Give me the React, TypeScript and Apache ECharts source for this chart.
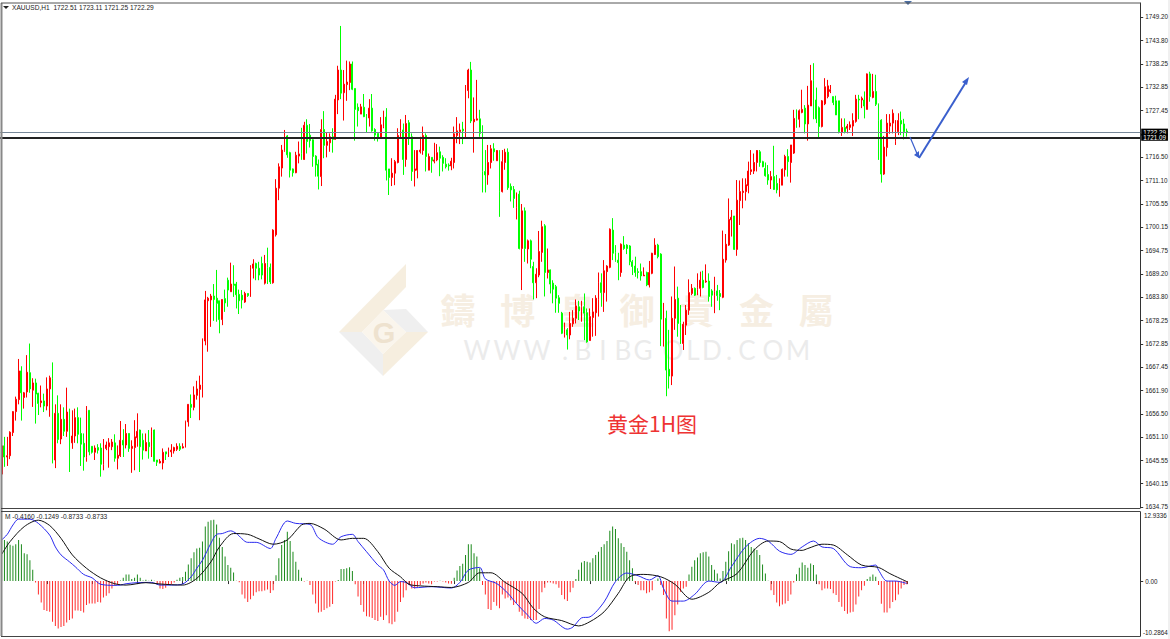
import React, { useEffect, useRef } from "react";
import * as echarts from "echarts";

// Candles as [open, close, low, high]
const basing = [
[1642.4,1649.0,1637.2,1650.0],[1649.0,1646.4,1644.1,1651.1],[1646.4,1646.7,1644.3,1651.1],[1646.7,1652.2,1645.9,1652.4],[1652.1,1657.0,1651.3,1657.1],[1657.0,1659.9,1654.9,1660.5],[1659.8,1666.5,1658.7,1669.3],[1666.5,1661.4,1654.9,1667.6],[1660.3,1661.4,1657.7,1661.6],[1661.6,1666.2,1660.3,1670.2],
[1666.1,1662.3,1661.4,1672.9],[1662.0,1663.7,1658.1,1664.8],[1663.7,1661.1,1654.2,1664.7],[1661.3,1658.9,1656.2,1661.4],[1659.1,1659.5,1658.0,1663.1],[1659.5,1658.3,1656.9,1661.2],[1658.3,1662.3,1657.3,1665.0],[1662.3,1664.9,1655.8,1665.4],[1664.7,1645.7,1644.9,1668.5],[1645.7,1656.6,1643.8,1658.7],
[1656.6,1650.5,1649.6,1660.8],[1650.6,1655.2,1649.4,1658.7],[1655.2,1652.4,1651.3,1658.0],[1652.4,1656.9,1651.1,1662.6],[1656.9,1649.7,1642.9,1657.7],[1649.7,1651.3,1648.3,1657.3],[1651.3,1655.6,1649.7,1657.7],[1655.6,1651.7,1649.6,1658.0],[1651.9,1649.4,1644.3,1655.6],[1649.6,1646.4,1643.2,1651.9],
[1646.3,1657.3,1645.3,1658.3],[1657.3,1647.6,1646.8,1657.3],[1648.9,1647.5,1647.2,1648.9],[1647.5,1648.5,1645.7,1649.1],[1648.6,1648.0,1647.2,1649.4],[1648.5,1644.7,1641.8,1649.6],[1644.7,1648.7,1643.3,1650.6],[1648.4,1649.2,1648.0,1650.0],[1648.8,1649.7,1643.9,1650.8],[1648.8,1649.9,1648.0,1650.6],
[1649.7,1646.1,1645.3,1651.7],[1646.1,1646.8,1643.5,1649.1],[1646.7,1650.3,1646.4,1654.8],[1650.3,1649.2,1646.4,1652.9],[1649.2,1651.9,1648.4,1654.1],[1651.9,1648.4,1647.6,1651.9],[1648.4,1648.9,1642.7,1650.3],[1648.6,1651.1,1643.3,1655.0],[1650.9,1652.4,1648.8,1656.6],[1652.7,1648.8,1642.9,1652.8],
[1650.3,1648.0,1645.8,1651.9],[1647.8,1649.8,1647.8,1651.9],[1649.8,1648.8,1646.0,1652.7],[1648.8,1652.4,1646.4,1653.3],[1652.7,1645.4,1645.3,1652.8],[1645.7,1645.2,1644.3,1645.7],[1645.0,1645.4,1644.9,1645.9],[1645.0,1647.5,1643.5,1648.4],[1647.6,1647.1,1645.7,1647.6],[1647.1,1647.7,1646.4,1648.6],
[1647.6,1648.0,1646.4,1649.4],[1647.8,1648.6,1647.2,1648.8],[1648.2,1648.9,1647.8,1649.6],[1648.9,1648.2,1647.8,1649.6],[1648.5,1648.8,1648.4,1649.6],[1648.7,1654.6,1648.6,1654.9],[1654.6,1658.7,1653.5,1658.7],[1658.7,1658.0,1655.5,1661.0],[1658.0,1660.9,1657.3,1662.9],[1660.8,1662.3,1659.8,1664.2],
[1662.2,1663.2,1655.0,1665.4],[1663.3,1673.7,1660.3,1674.1],[1673.5,1683.1,1672.5,1685.2],[1682.9,1683.5,1671.0,1683.8],[1683.1,1684.0,1676.8,1684.5],[1684.0,1683.2,1678.2,1686.8],[1683.5,1682.3,1678.0,1690.1],[1682.9,1678.5,1675.3,1682.9],[1678.5,1683.2,1677.2,1683.2],[1683.4,1682.4,1680.3,1685.5],
[1687.7,1685.4,1681.5,1688.3],[1685.0,1686.8,1685.0,1691.8],[1686.8,1686.5,1683.8,1691.2],[1686.8,1684.3,1681.1,1687.3],[1684.4,1682.9,1679.8,1685.5],[1684.2,1683.1,1681.1,1685.4],[1682.6,1684.6,1682.4,1685.0],[1684.6,1684.1,1683.8,1684.6],[1684.0,1690.7,1683.8,1691.2],[1690.5,1691.5,1688.1,1692.6],
[1691.6,1690.5,1687.7,1691.8],[1690.5,1688.9,1687.7,1692.0],[1691.6,1688.9,1687.9,1693.2],[1687.0,1691.6,1686.7,1693.6],[1691.8,1690.7,1686.8,1695.3],[1690.7,1687.3,1686.8,1691.6],[1687.1,1699.4,1686.9,1699.6],
];
const topping = [
[1698.3,1709.2,1697.9,1711.3],[1709.2,1714.2,1706.4,1715.0],[1713.9,1718.1,1711.9,1719.3],[1718.0,1721.4,1717.7,1722.8],[1721.4,1717.0,1716.3,1721.6],[1717.5,1713.4,1711.7,1717.7],[1713.7,1712.8,1711.9,1713.8],[1712.8,1716.9,1712.7,1717.7],[1716.7,1717.2,1715.0,1720.1],[1717.3,1715.9,1715.8,1723.3],
[1715.9,1723.9,1715.8,1724.7],[1723.9,1720.1,1717.3,1725.3],[1721.6,1720.3,1718.7,1724.2],[1720.5,1716.6,1714.2,1720.6],[1716.7,1714.6,1711.9,1716.9],[1714.8,1712.0,1708.9,1715.9],[1711.9,1722.9,1709.7,1725.3],[1722.9,1719.2,1716.2,1727.2],[1719.2,1720.1,1716.4,1722.2],[1719.8,1721.2,1717.7,1722.0],
[1721.2,1720.6,1717.5,1723.2],[1720.6,1730.0,1720.5,1731.0],[1729.8,1736.8,1726.5,1737.8],[1736.8,1731.4,1730.0,1747.1],[1731.5,1733.5,1725.0,1736.8],[1733.4,1734.0,1729.6,1739.0],[1733.9,1738.2,1732.1,1738.8],[1738.2,1732.3,1732.1,1738.8],[1732.5,1727.6,1720.3,1732.5],[1728.1,1727.3,1723.6,1729.0],
[1726.5,1728.2,1726.5,1728.9],[1728.1,1725.9,1725.8,1731.2],[1726.5,1725.9,1722.2,1726.5],[1725.6,1727.9,1723.6,1730.0],[1727.9,1722.6,1722.4,1731.2],[1722.9,1721.6,1720.3,1723.2],[1722.0,1720.8,1720.1,1722.0],[1720.8,1724.0,1720.8,1725.8],[1723.7,1725.8,1723.2,1727.3],[1725.8,1713.4,1711.0,1727.9],
[1713.7,1711.7,1707.6,1713.7],[1711.7,1712.7,1709.7,1716.2],[1712.7,1715.4,1709.9,1715.8],[1715.2,1721.5,1715.0,1723.2],[1721.2,1722.6,1721.2,1725.3],[1722.8,1715.9,1712.3,1724.3],[1715.9,1724.3,1714.2,1726.3],[1724.5,1721.2,1719.3,1725.1],[1721.2,1713.1,1710.9,1722.0],[1713.3,1713.7,1709.6,1718.1],
[1713.4,1718.0,1711.5,1718.1],[1717.7,1718.1,1717.3,1721.2],[1718.0,1721.5,1717.0,1723.6],[1721.5,1716.6,1713.1,1722.0],[1713.4,1716.6,1713.4,1717.3],[1716.4,1715.6,1712.8,1716.4],[1715.5,1715.8,1715.0,1719.8],[1715.8,1717.5,1715.5,1719.5],[1717.7,1716.2,1712.0,1718.9],[1716.4,1715.0,1713.1,1716.9],
[1714.8,1714.2,1713.8,1716.2],[1714.6,1714.4,1713.3,1715.0],[1714.4,1715.5,1713.4,1716.3],[1715.2,1721.9,1713.8,1723.6],[1721.5,1722.6,1719.7,1725.8],[1722.4,1722.8,1719.5,1724.3],[1723.0,1722.6,1719.5,1724.7],[1722.6,1732.1,1721.1,1733.3],[1732.0,1736.8,1730.2,1737.1],[1736.8,1724.9,1724.4,1738.7],
[1724.7,1725.3,1717.5,1730.4],[1725.1,1725.4,1725.0,1734.5],[1725.4,1722.0,1721.2,1727.5],
];
const selloff = [
[1722.0,1713.1,1708.2,1723.9],[1713.1,1712.3,1708.2,1718.1],[1712.3,1715.2,1710.0,1719.3],[1715.2,1718.4,1713.8,1719.3],[1718.4,1717.7,1715.6,1719.7],[1715.6,1718.0,1715.6,1718.1],[1718.0,1708.5,1702.5,1718.1],[1708.4,1715.4,1708.2,1718.1],[1715.2,1717.6,1713.5,1718.4],[1717.6,1709.3,1708.8,1718.5],
[1709.6,1708.8,1706.1,1710.3],[1708.9,1706.8,1704.6,1709.7],[1704.7,1707.6,1701.9,1708.2],[1707.8,1695.1,1694.9,1708.6],[1695.1,1703.9,1685.4,1705.5],[1703.9,1695.1,1692.0,1704.7],[1695.0,1696.9,1691.6,1697.2],[1696.9,1692.6,1690.5,1697.2],[1690.9,1687.1,1683.2,1692.0],[1687.1,1689.1,1683.5,1690.5],
[1688.9,1694.4,1688.4,1699.2],[1694.2,1700.2,1692.0,1701.6],[1700.4,1689.5,1683.9,1700.8],[1689.5,1690.1,1688.1,1695.1],[1690.1,1686.8,1684.6,1690.2],[1687.0,1685.6,1682.3,1687.7],[1686.2,1683.5,1680.1,1686.6],[1683.6,1682.3,1680.1,1684.2],[1680.0,1675.3,1675.1,1680.3],[1675.1,1676.1,1674.3,1677.8],
[1676.1,1674.9,1671.5,1676.5],[1674.9,1677.6,1673.9,1680.3],[1677.5,1678.8,1676.8,1680.7],[1678.8,1681.7,1677.6,1683.2],[1681.5,1680.5,1678.4,1682.9],[1681.3,1681.5,1678.0,1682.9],[1681.5,1680.0,1673.7,1684.6],[1680.1,1673.3,1673.1,1681.1],[1673.6,1679.2,1673.6,1681.1],[1679.0,1680.3,1674.5,1683.5],
[1680.1,1683.5,1674.7,1684.2],[1683.2,1687.2,1679.2,1689.5],[1687.1,1684.8,1681.5,1689.3],[1684.8,1689.9,1680.3,1692.4],[1689.7,1691.0,1682.7,1691.2],[1690.7,1699.6,1690.5,1699.8],[1699.4,1694.0,1692.4,1702.2],[1694.1,1692.3,1692.0,1695.9],[1692.4,1691.8,1687.7,1694.1],[1689.5,1696.1,1688.5,1696.3],
[1695.9,1695.1,1694.8,1698.0],[1695.9,1695.1,1693.8,1696.1],[1695.7,1692.0,1691.2,1695.9],[1692.0,1690.9,1688.9,1692.4],[1691.0,1689.5,1688.5,1693.2],[1689.7,1689.5,1688.1,1690.5],[1689.7,1688.7,1687.6,1691.6],[1688.7,1688.9,1688.7,1690.7],[1689.5,1686.6,1686.3,1689.7],[1686.6,1689.5,1686.0,1692.2],
[1689.3,1694.0,1689.1,1694.1],[1693.7,1695.9,1693.6,1697.5],[1695.9,1693.2,1692.8,1696.2],[1693.8,1678.6,1672.3,1694.0],[1678.4,1678.8,1672.2,1682.4],[1678.8,1666.7,1660.6,1680.6],[1666.9,1665.3,1662.4,1676.1],[1665.3,1678.8,1663.2,1683.9],[1678.8,1683.2,1676.1,1690.9],[1683.5,1677.6,1674.5,1686.2],
[1677.8,1672.9,1672.8,1681.9],[1672.9,1677.4,1671.4,1678.0],[1677.2,1680.7,1674.9,1681.9],[1680.7,1684.8,1679.6,1687.9],[1684.6,1685.8,1684.2,1686.8],[1685.8,1684.2,1684.0,1686.0],[1685.6,1686.0,1684.2,1689.3],[1685.8,1687.7,1683.9,1689.7],[1687.7,1686.0,1685.8,1689.9],[1687.3,1687.5,1687.1,1691.4],
[1687.5,1683.9,1682.7,1689.3],[1685.2,1684.2,1681.5,1685.6],[1684.1,1685.0,1680.0,1688.5],[1685.2,1684.1,1682.9,1686.6],[1684.6,1683.9,1680.7,1685.4],[1683.7,1692.6,1683.5,1699.3],[1692.4,1696.1,1691.8,1698.5],[1695.9,1701.9,1695.7,1706.8],[1701.8,1702.4,1697.9,1704.1],[1702.7,1694.9,1694.8,1702.7],
[1694.9,1706.4,1693.4,1711.1],[1706.3,1708.4,1700.6,1711.0],[1708.2,1708.5,1704.5,1711.5],[1708.4,1710.0,1706.3,1711.5],[1709.8,1713.2,1708.0,1715.4],[1713.1,1713.5,1712.3,1718.1],[1713.2,1715.2,1712.5,1717.3],[1715.2,1718.0,1713.1,1718.1],[1717.7,1715.2,1714.2,1718.1],[1715.4,1714.2,1714.1,1715.6],
[1713.8,1712.1,1711.9,1715.2],[1712.4,1711.1,1710.0,1714.6],[1711.1,1711.9,1709.0,1713.2],[1711.9,1708.9,1708.8,1719.1],[1710.3,1708.8,1708.0,1712.3],[1708.6,1710.3,1707.2,1711.5],
];
const recovery = [
[1709.9,1713.6,1709.9,1713.8],[1713.5,1716.6,1711.9,1717.0],[1716.6,1715.4,1711.9,1718.3],[1715.2,1719.3,1710.5,1719.3],[1717.4,1725.5,1717.2,1727.5],[1725.5,1725.3,1723.3,1727.6],[1725.3,1727.3,1723.4,1727.6],[1726.9,1727.6,1726.7,1732.2],[1727.9,1724.2,1722.0,1728.6],[1724.2,1728.6,1720.3,1733.1],
[1728.4,1734.3,1728.4,1738.0],[1734.3,1729.8,1725.3,1738.4],[1729.8,1725.4,1724.4,1732.7],[1728.0,1723.6,1721.1,1728.3],[1723.6,1729.6,1723.4,1729.8],[1728.9,1732.9,1728.6,1734.9],[1730.6,1733.1,1730.2,1734.5],[1731.8,1732.2,1731.4,1733.3],[1730.6,1729.2,1728.6,1730.6],[1729.6,1726.3,1726.3,1730.8],
[1729.6,1722.4,1722.0,1729.6],[1722.3,1723.4,1721.4,1725.5],[1723.4,1722.4,1722.0,1725.5],[1723.2,1723.7,1722.0,1724.2],[1723.4,1724.0,1722.8,1724.8],[1723.7,1725.0,1721.4,1726.7],[1724.8,1730.0,1724.5,1731.0],[1730.0,1729.8,1725.3,1731.0],[1729.8,1730.2,1727.9,1730.6],[1729.8,1728.4,1725.5,1731.8],
[1727.6,1735.9,1727.6,1736.0],[1735.9,1730.6,1729.4,1736.4],[1730.4,1731.8,1730.2,1735.9],[1731.8,1728.8,1728.4,1735.7],[1728.8,1725.1,1715.8,1729.0],[1725.1,1712.5,1710.5,1725.3],[1712.5,1718.8,1712.3,1721.4],[1718.7,1724.4,1716.6,1726.5],[1723.7,1724.4,1721.9,1726.5],[1724.4,1726.7,1722.0,1727.6],
[1720.1,1722.8,1719.3,1725.1],[1722.4,1725.0,1721.6,1726.7],[1725.0,1724.2,1721.6,1727.1],[1724.2,1722.4,1720.6,1725.4],[1722.51,1722.29,1721.25,1723.11],
];

const histogram = [
7.7,7.7,7.4,6.8,6.6,6.9,7.7,6.9,5.2,5.0,3.9,2.1,-0.25,-2.5,-4.0,-5.4,-5.6,-5.75,-7.6,-8.4,
-8.9,-8.6,-8.4,-7.75,-7.3,-7.0,-5.5,-5.5,-5.6,-5.9,-4.5,-4.2,-4.2,-4.2,-3.9,-4.0,-3.1,-2.75,-2.3,-1.4,
-0.9,-0.75,0.1,0.6,1.25,1.25,0.4,0.6,1.25,0.6,0.1,0.25,0.05,0.25,0.05,-0.6,-1.4,-1.5,-1.25,-0.75,
-0.6,-0.25,0.25,0.6,0.75,1.75,3.1,4.25,5.4,6.1,6.25,7.4,10.2,11.1,11.4,11.5,10.6,8.1,6.4,4.6,
3.0,2.5,1.6,0.05,-0.2,-2.5,-3.25,-3.9,-3.4,-2.75,-2.1,-1.9,-1.9,-1.75,-1.6,-2.25,-1.7,1.1,4.25,6.75,
7.7,9.25,7.5,5.5,3.6,2.1,0.6,-0.1,0.05,-0.75,-2.5,-4.2,-5.9,-5.75,-5.4,-5.1,-4.8,-4.3,-0.1,0.2,
2.25,2.25,2.4,2.6,1.9,-0.6,-2.9,-4.5,-5.75,-6.6,-6.7,-6.9,-7.3,-7.5,-6.7,-7.3,-6.4,-7.9,-8.1,-7.6,
-5.75,-3.9,-3.1,-1.7,-0.75,-1.4,-1.4,-1.05,-0.75,-0.45,-0.25,-0.45,-0.6,-0.1,-0.1,0.05,-0.1,-0.25,-0.45,-0.5,
0.6,2.0,2.8,3.25,4.9,6.9,6.9,5.2,4.6,2.4,-0.75,-2.5,-5.25,-5.4,-3.9,-4.6,-5.1,-2.5,-3.25,-3.1,
-3.6,-4.5,-4.2,-5.75,-6.5,-7.0,-7.1,-7.3,-7.3,-7.3,-5.25,-2.1,-1.25,-0.25,-0.25,-0.45,-0.6,-1.25,-2.6,-3.4,
-3.75,-2.1,-1.25,0.4,2.1,3.5,3.75,3.6,3.5,4.25,4.9,5.5,6.4,6.9,7.5,9.4,10.2,9.75,8.0,7.1,
6.4,5.5,3.9,2.4,-0.25,-0.75,-1.7,-1.7,-2.3,-2.1,-1.7,0.05,0.5,-0.75,-2.6,-7.0,-9.4,-9.1,-6.4,-4.4,
-2.0,-1.4,-1.05,1.25,2.7,3.9,4.4,5.2,5.4,5.5,4.6,3.0,2.1,1.4,0.5,1.9,3.6,5.6,7.1,6.9,
7.7,8.0,8.1,7.7,7.1,6.4,6.1,5.8,4.9,3.1,1.4,0.05,-1.7,-2.6,-4.0,-4.7,-4.4,-4.2,-3.75,-2.5,
-0.25,1.3,2.5,3.5,3.0,2.5,3.3,3.0,1.25,-0.6,-1.7,-1.4,-1.4,-1.5,-2.3,-2.6,-3.9,-4.8,-5.6,-6.1,
-5.9,-5.75,-4.4,-2.9,-1.7,-0.9,0.4,0.8,1.25,0.8,-0.75,-4.25,-5.9,-5.9,-5.1,-3.9,-3.6,-2.5,-1.4,-0.75,-0.6,
];

// Indicator lines read at [bar index, value]
const mainLine = [
[0,7.7],[2,8.75],[4,10.5],[6,11.6],[10,11.6],[13,10.8],[17,8.6],[19,6.4],[21,4.9],[24,3.6],[26,2.7],[29,1.25],[32,0.6],[35,-0.6],[40,-0.8],[42,-0.75],[44,-0.5],[48,-0.3],[53,-0.25],[56,-0.75],[60,-0.75],[64,-0.55],[67,0.8],[69,2.4],[71,3.9],[74,7.1],[76,8.75],[78,8.9],[81,9.4],[83,8.9],[87,7.25],[90,7.25],[95,6.1],[97,8.0],[101,11.25],[104,10.8],[109,10.6],[112,8.1],[117,6.9],[120,8.3],[124,8.75],[126,7.4],[129,5.5],[133,3.0],[135,2.1],[137,0],[139,-0.8],
[141,-0.1],[143,-0.25],[146,-1.25],[152,-1.05],[159,-1.3],[162,-0.25],[165,2.05],[169,2.55],[171,0.4],[175,-0.45],[179,-2.3],[182,-4.2],[186,-6.4],[189,-7.9],[192,-7.0],[195,-7.3],[200,-9.0],[202,-8.6],[205,-6.9],[208,-6.7],[213,-3.9],[217,-0.1],[221,1.5],[225,1.0],[229,0.2],[232,1.0],[234,-1.4],[237,-3.75],[241,-3.75],[245,-2.5],[250,0],[254,-0.25],[258,2.7],[263,6.4],[268,8.0],[271,7.5],[275,5.6],[279,5.0],[283,6.4],
[287,7.5],[290,6.4],[294,6.1],[300,2.7],[304,2.5],[309,3.0],[310,2.05],[313,0],[316,0],[320,-0.45],
];
const signalLine = [
[0,5.0],[3,7.4],[8,10.2],[13,11.4],[17,10.4],[21,8.0],[25,4.9],[30,2.4],[35,0.6],[40,-0.5],[44,-0.75],[51,-0.3],[56,-0.55],[64,-0.75],[69,0.5],[74,3.6],[77,6.4],[82,8.9],[87,8.75],[91,7.9],[96,6.9],[101,7.7],[106,10.5],[109,10.8],[114,9.75],[120,7.7],[124,8.0],[128,8.0],[133,5.5],[137,2.4],
[141,0.8],[144,-0.6],[148,-0.9],[154,-1.05],[159,-1.2],[165,-0.25],[169,1.55],[173,1.55],[178,-0.25],[184,-2.3],[188,-5.1],[192,-6.7],[198,-7.4],[204,-8.4],[208,-7.6],[213,-5.75],[218,-2.3],[222,0.8],[227,1.25],[233,0.8],[238,-0.6],[244,-3.4],[250,-2.1],[254,-0.25],[260,1.4],[266,5.8],[271,7.5],[275,7.4],[279,6.0],
[283,5.75],[285,6.1],[290,6.9],[294,6.75],[299,4.9],[304,3.0],[310,2.55],[314,1.4],[320,-0.1],
];

const priceTicks = [1749.2,1743.8,1738.25,1732.85,1727.45,1716.5,1711.1,1705.55,1700.15,1694.75,1689.2,1683.8,1678.25,1672.85,1667.45,1661.9,1656.5,1651.1,1645.55,1640.15,1634.75];
const macdTop = "12.9336";
const macdBottom = "-10.2864";
const bidPrice = 1722.29;
const linePrice = 1721.09;
const slotCount = 403;
const categories = Array.from({ length: slotCount }, (_, i) => String(i));
const headerText = "XAUUSD,H1  1722.51 1723.11 1721.25 1722.29";
const macdHeader = "M -0.4160 -0.1249 -0.8733 -0.8733";
const captionText = "黄金1H图";
const brandChars = ["鑄","博","皇","御","貴","金","屬"];
const urlChars = "WWW.BIBGOLD.COM".split("");
const urlX = [477,507,537,565,583,603,623,643,673,693,712,729,747,773,798];

const SMALL_FONT = "'Liberation Sans', Arial, sans-serif";

export default function App() {
  const ref = useRef<HTMLDivElement>(null);
  useEffect(() => {
    const chart = echarts.init(ref.current!, null, { renderer: "svg" });
    const candles = [...basing, ...topping, ...selloff, ...recovery];
    const beige = "#f6eedf";
    const pale = "#efefef";
    const blue = "#3a5fcd";
    const frame = (x1: number, y1: number, x2: number, y2: number, stroke: string, lineWidth = 1) => ({
      type: "line", z: 20, shape: { x1, y1, x2, y2 }, style: { stroke, lineWidth },
    });
    const poly = (points: number[][], fill: string, z = 0) => ({ type: "polygon", z, shape: { points }, style: { fill } });
    const graphicElements: any[] = [
      { type: "rect", z: 0, shape: { x: 1168, y: 0, width: 2, height: 639 }, style: { fill: "#f0f0f0" } },
      poly([[339,332],[406,264],[406,287],[362,332]], beige),
      poly([[339,332],[383,376],[383,354],[362,332]], pale),
      poly([[383,376],[428,332],[406,332],[383,354]], beige),
      poly([[383,310],[406,309],[428,332],[406,332]], pale),
      poly([[362,332],[383,310],[406,332],[383,354]], "#faf5ec"),
      { type: "text", z: 0, style: { x: 384, y: 333, text: "G", fill: "#eee2cf", font: "bold 29px 'Liberation Sans'", align: "center", verticalAlign: "middle" } },
      ...brandChars.map((text, i) => ({
        type: "text", z: 0,
        style: { x: 458 + i * 59.7, y: 308, text, fill: "#f6eee2", font: "bold 35px 'Noto Sans CJK TC'", align: "center", verticalAlign: "middle" },
      })),
      ...urlChars.map((text, i) => ({
        type: "text", z: 0,
        style: { x: urlX[i], y: 350, text, fill: "#ebebeb", font: "26px Lato", align: "center", verticalAlign: "middle" },
      })),
      { type: "text", z: 15, style: { x: 652, y: 422.5, text: captionText, fill: "#ee3333", font: "21px 'Noto Sans CJK SC'", align: "center", verticalAlign: "middle" } },
      { type: "text", z: 15, style: { x: 12, y: 7.5, text: headerText, fill: "#222", font: `6.6px ${SMALL_FONT}`, verticalAlign: "middle" } },
      { type: "text", z: 15, style: { x: 5, y: 516.5, text: macdHeader, fill: "#222", font: `6.6px ${SMALL_FONT}`, verticalAlign: "middle" } },
      { type: "text", z: 15, style: { x: 1144, y: 515, text: macdTop, fill: "#222", font: `6.3px ${SMALL_FONT}`, verticalAlign: "middle" } },
      { type: "text", z: 15, style: { x: 1143, y: 632, text: macdBottom, fill: "#222", font: `6.3px ${SMALL_FONT}`, verticalAlign: "middle" } },
      poly([[3,6],[9,6],[6,9]], "#222", 15),
      poly([[904,1],[912,1],[908,5]], "#4a6fa5", 15),
      { type: "polyline", z: 16, shape: { points: [[910,137],[918,156]] }, style: { stroke: blue, lineWidth: 1.2, fill: "none" } },
      poly([[919,158],[914,155],[919,151]], blue, 16),
      { type: "polyline", z: 16, shape: { points: [[919,158],[966,82]] }, style: { stroke: blue, lineWidth: 2, fill: "none" } },
      poly([[969,77],[962,82],[967,85]], blue, 16),
      frame(1.5, 3, 1.5, 636, "#888", 2),
      frame(1, 3, 1140.5, 3, "#555"),
      frame(1, 508.5, 1140.5, 508.5, "#444"),
      frame(1, 511.5, 1140.5, 511.5, "#444"),
      frame(1, 636.5, 1140.5, 636.5, "#444"),
    ];
    const priceLabel = (value: number) => ({
      yAxis: value,
      label: {
        show: true, position: "end", distance: 1, formatter: value.toFixed(2), color: "#fff", backgroundColor: "#000",
        fontFamily: "Liberation Sans", fontSize: 6.3, padding: [1, 2, 0, 2],
      },
    });
    chart.setOption({
      animation: false,
      backgroundColor: "#fff",
      graphic: { elements: graphicElements },
      grid: [
        { left: 0.2, width: 1140, top: 3, height: 504.5, outerBoundsMode: "none", containLabel: false },
        { left: 0.2, width: 1140, top: 512, height: 124, outerBoundsMode: "none", containLabel: false },
      ],
      xAxis: [
        { type: "category", gridIndex: 0, data: categories, axisLine: { show: false }, axisTick: { show: false }, axisLabel: { show: false }, splitLine: { show: false } },
        {
          type: "category", gridIndex: 1, data: categories, axisLine: { show: false },
          axisTick: { show: true, alignWithLabel: true, length: 3, lineStyle: { color: "#333" }, interval: (i: number) => i > 0 && i <= 320 && i % 16 === 0 },
          axisLabel: { show: false }, splitLine: { show: false },
        },
      ],
      yAxis: [
        {
          type: "value", gridIndex: 0, position: "right", min: 1634.6, max: 1752.46,
          axisLine: { show: true, lineStyle: { color: "#333" } },
          axisTick: { show: true, length: 3, lineStyle: { color: "#333" }, customValues: priceTicks },
          axisLabel: { show: true, customValues: priceTicks, formatter: (v: number) => v.toFixed(2), color: "#222", fontSize: 6.3, fontFamily: SMALL_FONT, margin: 5 },
          splitLine: { show: false },
        },
        {
          type: "value", gridIndex: 1, position: "right", min: -10.2864, max: 12.9336,
          axisLine: { show: true, lineStyle: { color: "#333" } },
          axisTick: { show: true, length: 3, lineStyle: { color: "#333" }, customValues: [0] },
          axisLabel: { show: true, customValues: [0], formatter: () => "0.00", color: "#222", fontSize: 6.3, fontFamily: SMALL_FONT, margin: 5 },
          splitLine: { show: false },
        },
      ],
      series: [
        {
          type: "candlestick", xAxisIndex: 0, yAxisIndex: 0, data: candles, barWidth: 1.4, z: 5,
          itemStyle: { color: "#ff0000", color0: "#00ff00", borderColor: "#ff0000", borderColor0: "#00ff00", borderWidth: 1 },
          markLine: {
            silent: true, symbol: "none", animation: false, z: 8,
            data: [
              { ...priceLabel(bidPrice), lineStyle: { color: "#778899", width: 1, type: "solid" } },
              { ...priceLabel(linePrice), lineStyle: { color: "#222", width: 2, type: "solid" } },
            ],
          },
        },
        {
          type: "bar", xAxisIndex: 1, yAxisIndex: 1, data: histogram, barWidth: 1, z: 3,
          itemStyle: { color: (p: any) => (p.value >= 0 ? "#1b8a1b" : "#ff2a2a") },
        },
        {
          type: "line", xAxisIndex: 1, yAxisIndex: 1, data: mainLine, showSymbol: false, smooth: 0.3, z: 4,
          lineStyle: { color: "#2a2aee", width: 1 },
        },
        {
          type: "line", xAxisIndex: 1, yAxisIndex: 1, data: signalLine, showSymbol: false, smooth: 0.3, z: 4,
          lineStyle: { color: "#111", width: 1 },
        },
      ],
    });
    return () => chart.dispose();
  }, []);
  return <div ref={ref} style={{ position: "fixed", left: 0, top: 0, width: 1170, height: 639 }} />;
}
